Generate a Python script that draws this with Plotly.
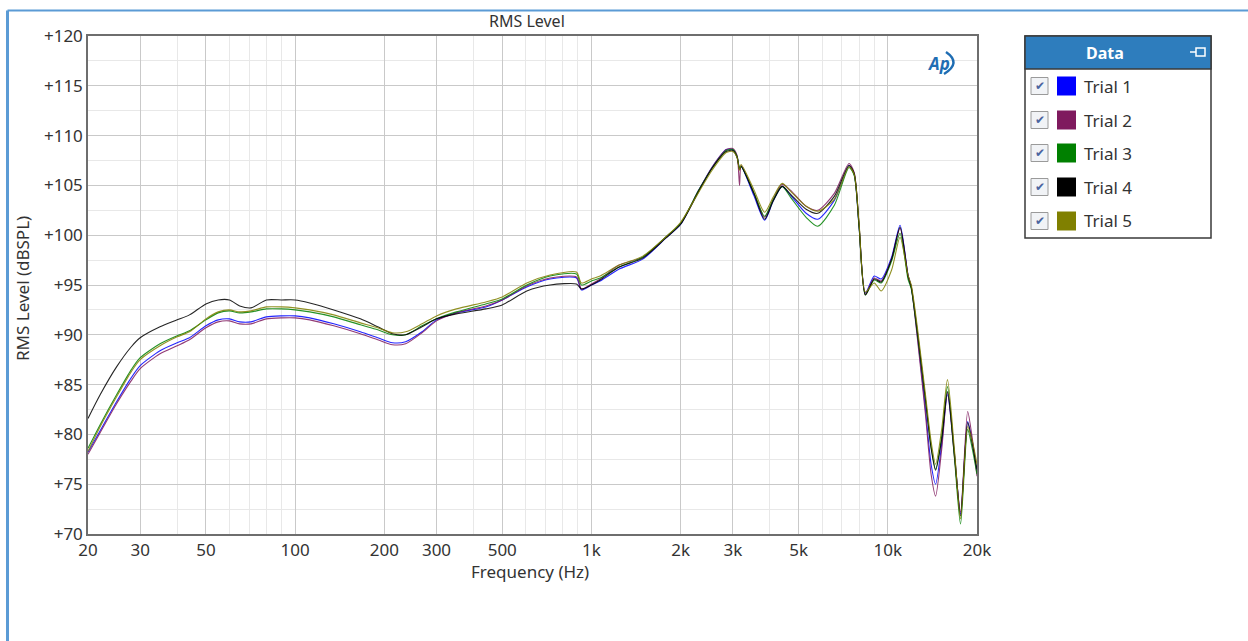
import plotly.graph_objects as go

# ---------------- data ----------------
freq_hz = [20, 22, 25, 28, 30, 35, 40, 44, 50, 55, 60, 65, 71, 80, 90, 100, 112, 135, 166, 190,
           213, 236, 268, 300, 350, 440, 500, 605, 725, 890, 925, 1000, 1070, 1240, 1490, 1780,
           2000, 2300, 2550, 2850, 3000, 3100, 3160, 3200, 3530, 3840, 4100, 4400, 4700, 5300,
           5800, 6600, 7400, 7700, 8000, 8400, 9000, 9500, 10300, 11000, 11700, 12000, 12600,
           13400, 14000, 14500, 15200, 15900, 16800, 17600, 18600, 19300, 20000]

trial_1 = [78.2, 80.4, 83.3, 85.7, 86.9, 88.4, 89.2, 89.7, 90.9, 91.5, 91.6, 91.3, 91.3, 91.8, 91.9,
           91.9, 91.7, 91.1, 90.3, 89.7, 89.2, 89.3, 90.3, 91.5, 92.2, 92.8, 93.5, 94.8, 95.6, 95.7,
           94.5, 95.0, 95.4, 96.6, 97.6, 99.7, 101.1, 104.5, 106.8, 108.6, 108.6, 107.9, 106.7, 106.9,
           104.0, 101.5, 103.4, 104.9, 104.0, 102.2, 101.6, 103.5, 107.0, 106.1, 100.8, 94.2, 95.9,
           95.6, 97.8, 101.0, 96.0, 94.8, 89.8, 82.5, 77.0, 75.0, 79.0, 84.0, 77.8, 72.0, 81.3, 79.2, 76.2]

trial_2 = [78.0, 80.2, 83.1, 85.4, 86.6, 88.1, 88.9, 89.5, 90.7, 91.3, 91.4, 91.1, 91.1, 91.6, 91.7,
           91.7, 91.5, 90.9, 90.1, 89.5, 89.0, 89.1, 90.2, 91.4, 92.2, 92.9, 93.5, 94.9, 95.7, 95.8,
           94.6, 95.1, 95.6, 97.0, 97.8, 99.8, 101.2, 104.5, 106.8, 108.6, 108.7, 108.0, 105.0, 107.0,
           104.3, 101.8, 103.6, 105.1, 104.5, 102.9, 102.5, 104.2, 107.2, 106.3, 101.0, 94.1, 95.7,
           95.4, 97.6, 100.7, 96.0, 94.8, 89.5, 82.0, 76.0, 73.8, 78.5, 84.2, 77.6, 72.2, 82.3, 79.5, 75.8]

trial_3 = [78.6, 81.0, 84.0, 86.5, 87.7, 89.1, 89.9, 90.4, 91.5, 92.2, 92.4, 92.2, 92.3, 92.6, 92.6,
           92.5, 92.3, 91.8, 91.0, 90.5, 90.0, 90.0, 90.9, 91.6, 92.3, 93.1, 93.6, 95.0, 95.9, 96.1,
           95.0, 95.4, 95.7, 96.8, 97.8, 99.8, 101.2, 104.5, 106.7, 108.5, 108.6, 107.9, 106.8, 106.9,
           104.3, 101.9, 103.5, 104.9, 103.8, 101.8, 100.9, 103.0, 106.8, 106.0, 100.8, 94.0, 95.5,
           95.2, 97.4, 100.2, 95.6, 94.6, 90.0, 83.5, 78.8, 76.5, 79.8, 84.8, 77.5, 71.0, 80.5, 78.5, 76.0]

trial_4 = [81.6, 84.0, 86.8, 88.8, 89.7, 90.8, 91.5, 92.0, 93.1, 93.5, 93.5, 92.9, 92.7, 93.5, 93.5,
           93.5, 93.2, 92.5, 91.6, 90.8, 90.1, 90.0, 90.8, 91.6, 92.1, 92.6, 93.0, 94.4, 95.0, 95.1,
           94.6, 95.0, 95.5, 96.8, 97.7, 99.7, 101.1, 104.4, 106.7, 108.4, 108.5, 107.8, 106.6, 106.9,
           104.2, 101.6, 103.4, 104.9, 104.1, 102.6, 102.2, 103.9, 107.0, 106.2, 101.0, 94.0, 95.6,
           95.3, 97.6, 100.8, 95.9, 94.8, 90.2, 83.5, 78.6, 76.4, 79.5, 84.3, 78.0, 71.8, 81.2, 79.0, 76.5]

trial_5 = [78.3, 80.8, 83.8, 86.3, 87.5, 88.9, 89.8, 90.3, 91.6, 92.3, 92.5, 92.3, 92.4, 92.8, 92.8,
           92.7, 92.5, 92.0, 91.2, 90.7, 90.2, 90.3, 91.1, 91.9, 92.6, 93.3, 93.8, 95.2, 96.0, 96.3,
           95.2, 95.6, 95.9, 97.0, 97.9, 99.8, 101.3, 104.3, 106.5, 108.3, 108.4, 107.8, 106.5, 107.1,
           104.6, 102.3, 103.8, 105.2, 104.4, 102.9, 102.4, 103.6, 106.9, 106.1, 101.2, 94.3, 95.2,
           94.4, 96.5, 99.8, 96.0, 95.0, 90.6, 84.0, 79.3, 77.0, 80.5, 85.5, 78.3, 71.5, 80.8, 79.3, 77.0]

trial_names = ["Trial 1", "Trial 2", "Trial 3", "Trial 4", "Trial 5"]
trial_values = [trial_1, trial_2, trial_3, trial_4, trial_5]
trial_colors = ["#0000ff", "#7f1a5e", "#008000", "#000000", "#808000"]

x_tick_vals = [20, 30, 50, 100, 200, 300, 500, 1000, 2000, 3000, 5000, 10000, 20000]
x_tick_text = ["20", "30", "50", "100", "200", "300", "500", "1k", "2k", "3k", "5k", "10k", "20k"]
x_minor_vals = [40, 60, 70, 80, 90, 400, 600, 700, 800, 900, 4000, 6000, 7000, 8000, 9000]
y_tick_vals = [70, 75, 80, 85, 90, 95, 100, 105, 110, 115, 120]
y_tick_text = ["+70", "+75", "+80", "+85", "+90", "+95", "+100", "+105", "+110", "+115", "+120"]
y_minor_vals = [72.5, 77.5, 82.5, 87.5, 92.5, 97.5, 102.5, 107.5, 112.5, 117.5]

# ---------------- layout geometry (pixels) ----------------
W, H = 1248, 641
L, R, T, B = 88, 977, 36, 534


def px(x):
    return (x - L) / (R - L)


def py(y):
    return (B - y) / (B - T)


FONT = "Noto Sans"
TXT = "#333333"

fig = go.Figure()
for name, vals, col in zip(trial_names, trial_values, trial_colors):
    fig.add_trace(go.Scatter(x=freq_hz, y=vals, name=name, mode="lines",
                             line=dict(color=col, width=1.1, shape="spline", smoothing=0.7),
                             opacity=0.85, showlegend=False))

shapes = []
annotations = []

# outer blue frame (only top & left edges are visible in the window)
shapes.append(dict(type="line", xref="paper", yref="paper", x0=px(7.5), x1=px(1260),
                   y0=py(10.5), y1=py(10.5), line=dict(color="#5b9bd5", width=2)))
shapes.append(dict(type="line", xref="paper", yref="paper", x0=px(7.5), x1=px(7.5),
                   y0=py(10.5), y1=py(660), line=dict(color="#5b9bd5", width=3)))

# titles
annotations.append(dict(text="RMS Level", xref="paper", yref="paper", x=px(527), y=py(21),
                        showarrow=False, font=dict(family=FONT, size=16, color=TXT),
                        xanchor="center", yanchor="middle"))
annotations.append(dict(text="Frequency (Hz)", xref="paper", yref="paper", x=px(530), y=py(571),
                        showarrow=False, font=dict(family=FONT, size=17, color=TXT),
                        xanchor="center", yanchor="middle"))
annotations.append(dict(text="RMS Level (dBSPL)", xref="paper", yref="paper", x=px(22), y=py(289),
                        showarrow=False, textangle=-90, font=dict(family=FONT, size=17, color=TXT),
                        xanchor="center", yanchor="middle"))

# AP logo
annotations.append(dict(text="<b><i>Ap</i></b>", xref="paper", yref="paper", x=px(938), y=py(63),
                        showarrow=False, font=dict(family=FONT, size=17, color="#1f6db3"),
                        xanchor="center", yanchor="middle"))
shapes.append(dict(type="path", xref="paper", yref="paper",
                   path="M {} {} Q {} {} {} {}".format(px(946), py(52), px(962), py(63), px(944), py(74)),
                   line=dict(color="#1f6db3", width=2.5)))

# legend panel
lx0, lx1, ly0, ly1, hy = 1025, 1211, 36, 238, 69
shapes.append(dict(type="rect", xref="paper", yref="paper", x0=px(lx0), x1=px(lx1), y0=py(ly1), y1=py(ly0),
                   fillcolor="white", line=dict(color="#3a3a3a", width=1.5)))
shapes.append(dict(type="rect", xref="paper", yref="paper", x0=px(lx0), x1=px(lx1), y0=py(hy), y1=py(ly0),
                   fillcolor="#2e7dbd", line=dict(color="#3a3a3a", width=1.5)))
annotations.append(dict(text="<b>Data</b>", xref="paper", yref="paper", x=px(1105), y=py(53),
                        showarrow=False, font=dict(family=FONT, size=16, color="white"),
                        xanchor="center", yanchor="middle"))
# pin icon
shapes.append(dict(type="line", xref="paper", yref="paper", x0=px(1190), x1=px(1196), y0=py(52), y1=py(52),
                   line=dict(color="white", width=1.5)))
shapes.append(dict(type="rect", xref="paper", yref="paper", x0=px(1196), x1=px(1205), y0=py(56), y1=py(48),
                   line=dict(color="white", width=1.5)))

row_y = [86, 120, 153, 187, 221]
for name, col, ry in zip(trial_names, trial_colors, row_y):
    shapes.append(dict(type="rect", xref="paper", yref="paper", x0=px(1031), x1=px(1048),
                       y0=py(ry + 8.5), y1=py(ry - 8.5), fillcolor="#f1f3f6",
                       line=dict(color="#9a9a9a", width=1)))
    annotations.append(dict(text="✔", xref="paper", yref="paper", x=px(1039.5), y=py(ry),
                            showarrow=False, font=dict(family="DejaVu Sans", size=12, color="#4a64a0"),
                            xanchor="center", yanchor="middle"))
    shapes.append(dict(type="rect", xref="paper", yref="paper", x0=px(1057), x1=px(1076),
                       y0=py(ry + 9.5), y1=py(ry - 9.5), fillcolor=col, line=dict(width=0)))
    annotations.append(dict(text=name, xref="paper", yref="paper", x=px(1082), y=py(ry),
                            showarrow=False, font=dict(family=FONT, size=17, color=TXT),
                            xanchor="left", yanchor="middle"))

fig.update_layout(
    width=W, height=H,
    margin=dict(l=L, r=W - R, t=T, b=H - B, pad=0),
    paper_bgcolor="white", plot_bgcolor="white",
    showlegend=False,
    shapes=shapes, annotations=annotations,
    xaxis=dict(type="log", range=[1.30103, 4.30103], tickmode="array",
               tickvals=x_tick_vals, ticktext=x_tick_text,
               showgrid=True, gridcolor="#c9c9c9", gridwidth=1,
               minor=dict(tickmode="array", tickvals=x_minor_vals, showgrid=True,
                          gridcolor="#e8e8e8", gridwidth=1, ticks=""),
               showline=True, linecolor="#6e6e6e", linewidth=1.5, mirror=True,
               ticks="", zeroline=False,
               tickfont=dict(family=FONT, size=17, color=TXT)),
    yaxis=dict(range=[70, 120], tickmode="array", tickvals=y_tick_vals, ticktext=y_tick_text,
               showgrid=True, gridcolor="#c9c9c9", gridwidth=1,
               minor=dict(tickmode="array", tickvals=y_minor_vals, showgrid=True,
                          gridcolor="#e8e8e8", gridwidth=1, ticks=""),
               showline=True, linecolor="#6e6e6e", linewidth=1.5, mirror=True,
               ticks="", zeroline=False,
               tickfont=dict(family=FONT, size=17, color=TXT)),
)

fig.write_html("out.html", config={"displayModeBar": False},
               post_script="document.body.style.margin='0';document.body.style.overflow='hidden';")
